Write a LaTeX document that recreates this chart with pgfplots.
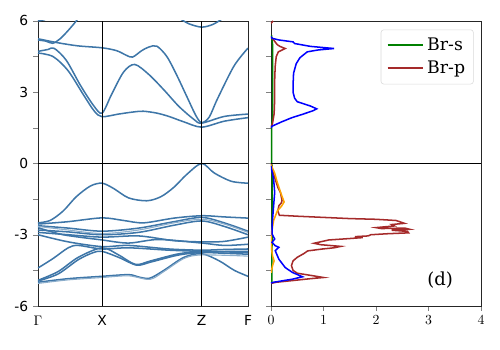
\documentclass[border=0pt]{standalone}
\usepackage{pgfplots}
\pgfplotsset{compat=1.18}
\usepackage{fontspec}
\setmainfont{DejaVu Serif}
\newfontfamily\dsans{DejaVu Sans}
\definecolor{bandc}{RGB}{62,118,168}
\definecolor{brp}{RGB}{165,42,42}
\definecolor{brs}{RGB}{0,128,0}
\definecolor{orng}{RGB}{255,165,0}
\tikzset{band/.style={color=bandc, solid, line width=1.1pt, smooth, mark=none}}
\begin{document}
\begin{tikzpicture}
\path[use as bounding box] (0,0) rectangle (361.35pt,252.95pt);
% ---------- band structure ----------
\begin{axis}[
  at={(27.46pt,31.8pt)}, anchor=south west, scale only axis,
  width=151.8pt, height=206.0pt,
  xmin=0, xmax=208.6, ymin=-6, ymax=6,
  xtick={0,63.6,162.6,208.6}, xticklabels={$\Gamma$,X,Z,F},
  xticklabel style={font=\dsans\fontsize{10}{12}\selectfont},
  x tick style={draw=none},
  ytick={-6,-4.5,-3,-1.5,0,1.5,3,4.5,6}, yticklabels={-6,,-3,,0,,3,,6},
  yticklabel style={font=\dsans\fontsize{10}{12}\selectfont},
  tick align=outside, major tick length=3.5pt,
  tick pos=left, axis line style={black!85},
  clip=true,
]
% conduction
\addplot[band] coordinates {(0,4.65)(15,4.5)(30,3.9)(45,2.9)(56,2.2)(63.6,1.97)(80,2.08)(95,2.17)(104.6,2.2)(118,2.12)(130,1.98)(145,1.75)(162.6,1.53)(185,1.78)(208.6,1.93)};
\addplot[band] coordinates {(0,4.72)(10,4.8)(16,4.85)(28,4.35)(42,3.3)(55,2.45)(63.6,2.12)(73,2.9)(85,3.85)(96,4.17)(110,3.75)(125,3.1)(140,2.4)(155,1.85)(162.6,1.7)(185,1.98)(208.6,2.08)};
\addplot[band] coordinates {(0,5.25)(20,5.08)(40,4.95)(63.6,4.87)(78,4.75)(88,4.55)(94,4.48)(103,4.75)(110,4.9)(118,4.94)(128,4.5)(138,3.7)(148,2.8)(157,2.0)(162.6,1.72)(170,1.95)(178,2.7)(194.6,4.1)(208.6,4.86)};
\addplot[band] coordinates {(0,5.2)(8,5.15)(14.6,5.06)(22,5.25)(30,5.6)(38,6.0)(42,6.25)};
\addplot[band] coordinates {(140,6.12)(150,5.88)(162.6,5.74)(174,5.86)(184,6.12)};
\addplot[band] coordinates {(0,6.0)(6,6.05)(12,6.15)};
% valence
\addplot[band] coordinates {(0,-2.5)(12,-2.4)(25,-2.0)(38,-1.4)(52,-0.95)(63.6,-0.83)(75,-1.05)(90,-1.45)(108,-1.57)(122,-1.4)(135,-1.0)(148,-0.45)(162.6,0)(175,-0.4)(192,-0.75)(208.6,-0.83)};
\addplot[band] coordinates {(0,-2.55)(30,-2.45)(63.6,-2.29)(85,-2.4)(105,-2.5)(135,-2.3)(162.6,-2.2)(185,-2.25)(208.6,-2.3)};
\addplot[band] coordinates {(0,-2.62)(30,-2.72)(63.6,-2.85)(100,-2.72)(135,-2.45)(162.6,-2.27)(185,-2.5)(208.6,-2.85)};
\addplot[band] coordinates {(0,-2.8)(30,-2.88)(63.6,-3.0)(100,-2.9)(135,-2.6)(162.6,-2.42)(185,-2.65)(208.6,-3.0)};
\addplot[band] coordinates {(0,-2.9)(30,-3.0)(63.6,-3.1)(100,-3.05)(135,-3.25)(162.6,-3.3)(185,-3.28)(208.6,-3.1)};
\addplot[band] coordinates {(0,-2.7)(25,-3.0)(63.6,-3.22)(90,-3.35)(120,-3.2)(162.6,-3.35)(185,-3.45)(208.6,-3.4)};
\addplot[band] coordinates {(0,-3.0)(30,-3.3)(63.6,-3.5)(90,-3.45)(130,-3.6)(162.6,-3.65)(185,-3.62)(208.6,-3.6)};
\addplot[band] coordinates {(0,-4.4)(15,-4.0)(30,-3.55)(40,-3.45)(63.6,-3.6)(90,-3.55)(130,-3.65)(162.6,-3.7)(185,-3.72)(208.6,-3.75)};
\addplot[band] coordinates {(0,-4.95)(20,-4.65)(40,-4.05)(55,-3.75)(63.6,-3.7)(80,-3.95)(98,-4.28)(112,-4.15)(140,-3.85)(162.6,-3.75)(185,-3.78)(208.6,-3.82)};
\addplot[band] coordinates {(0,-5.0)(30,-4.85)(63.6,-4.75)(90,-4.68)(100,-4.78)(111,-4.83)(125,-4.5)(145,-3.95)(162.6,-3.8)(180,-4.1)(195,-4.5)(208.6,-4.75)};
\addplot[band] coordinates {(0,-4.92)(20,-4.55)(40,-3.95)(63.6,-3.55)(80,-3.85)(97,-4.25)(112,-4.1)(140,-3.8)(162.6,-3.72)(208.6,-3.7)};
\addplot[band, color=bandc!60, line width=0.8pt] coordinates {(0,-2.65)(30,-2.8)(63.6,-2.95)(100,-2.8)(135,-2.5)(162.6,-2.35)(185,-2.55)(208.6,-2.9)};
\addplot[band, color=bandc!60, line width=0.8pt] coordinates {(0,-5.05)(30,-4.9)(63.6,-4.8)(90,-4.73)(111,-4.88)(125,-4.55)(145,-4.0)(162.6,-3.85)(208.6,-3.9)};
% guide lines
\addplot[black, line width=0.7pt, mark=none] coordinates {(63.6,-6)(63.6,6)};
\addplot[black, line width=0.7pt, mark=none] coordinates {(162.6,-6)(162.6,6)};
\addplot[black, line width=0.7pt, mark=none] coordinates {(0,0)(208.6,0)};
\end{axis}
% ---------- DOS ----------
\begin{axis}[
  at={(195.85pt,31.8pt)}, anchor=south west, scale only axis,
  width=151.8pt, height=206.0pt,
  xmin=0, xmax=4, ymin=-6, ymax=6,
  xtick={0,1,2,3,4},
  xticklabel style={font=\fontsize{10}{12}\selectfont},
  ytick={-6,-4.5,...,6}, yticklabels={},
  tick align=outside, major tick length=3.5pt,
  tick pos=left, axis line style={black!85},
  legend style={at={(0.965,0.97)}, anchor=north east, draw=black!15, rounded corners=2pt,
    font=\fontsize{12.5}{15}\selectfont, row sep=2pt, inner sep=4pt},
  legend cell align=left,
  legend image code/.code={\path[#1, line width=1.4pt] (0pt,0pt) edge (26pt,0pt);},
]
\addlegendimage{color=brs}
\addlegendentry{Br-s}
\addlegendimage{color=brp}
\addlegendentry{Br-p}
\addplot[brs, line width=1.1pt, mark=none, forget plot] coordinates {(0.015,-5.05)(0.02,-3)(0.02,-0.1)(0.01,0)(0.01,1.5)(0.03,2)(0.03,5)(0.01,5.4)};
\addplot[brp, line width=1.1pt, mark=none, forget plot] coordinates {(0,-0.02)(0.03,-0.3)(0.08,-0.66)(0.13,-1.0)(0.18,-1.22)(0.21,-1.55)(0.2,-1.65)(0.15,-1.78)(0.13,-2.0)(0.16,-2.18)(0.5,-2.22)(1.0,-2.27)(1.5,-2.32)(2.0,-2.35)(2.38,-2.4)(2.45,-2.45)(2.54,-2.52)(2.3,-2.57)(2.35,-2.63)(2.0,-2.7)(2.1,-2.74)(2.55,-2.72)(2.64,-2.77)(2.3,-2.81)(2.6,-2.86)(2.62,-2.92)(2.2,-2.96)(1.9,-3.0)(1.85,-3.05)(1.6,-3.08)(1.75,-3.12)(1.5,-3.16)(1.1,-3.22)(0.82,-3.36)(0.95,-3.42)(1.33,-3.49)(1.2,-3.55)(0.98,-3.6)(0.7,-3.68)(0.62,-3.8)(0.5,-3.95)(0.42,-4.1)(0.39,-4.3)(0.42,-4.5)(0.5,-4.62)(0.78,-4.72)(1.0,-4.8)(0.75,-4.85)(0.45,-4.92)(0.1,-5.0)(0,-5.05)};
\addplot[brp, line width=1.1pt, mark=none, forget plot] coordinates {(0,1.5)(0.03,1.7)(0.06,2.1)(0.07,2.7)(0.07,3.5)(0.08,4.1)(0.1,4.5)(0.14,4.7)(0.27,4.84)(0.17,4.93)(0.12,5.0)(0.05,5.2)(0,5.3)};
\addplot[brp, line width=1.1pt, mark=none, forget plot] coordinates {(0,5.9)(0.04,6.0)};
\addplot[orng, line width=1.1pt, mark=none, forget plot] coordinates {(0,-0.05)(0.07,-0.4)(0.12,-0.8)(0.18,-1.2)(0.25,-1.62)(0.2,-1.8)(0.12,-2.0)(0.05,-2.4)(0.02,-2.8)(0,-3.0)(0.01,-3.6)(0.03,-3.9)(0.06,-4.1)(0.03,-4.3)(0,-4.6)};
\addplot[blue, line width=1.1pt, mark=none, forget plot] coordinates {(0,-0.1)(0.01,-0.24)(0.05,-0.66)(0.07,-1.22)(0.05,-1.78)(0.02,-2.62)(0.02,-2.97)(0.07,-3.18)(0.02,-3.32)(0.08,-3.46)(0.15,-3.53)(0.08,-3.67)(0.15,-4.03)(0.27,-4.38)(0.41,-4.59)(0.6,-4.77)(0.41,-4.87)(0.05,-5.0)(0,-5.03)};
\addplot[blue, line width=1.1pt, mark=none, forget plot] coordinates {(0,1.5)(0.02,1.57)(0.2,1.75)(0.4,1.93)(0.6,2.07)(0.8,2.22)(0.87,2.3)(0.75,2.42)(0.5,2.6)(0.45,2.75)(0.42,3.0)(0.42,3.3)(0.43,3.8)(0.48,4.2)(0.55,4.45)(0.69,4.7)(0.9,4.78)(1.2,4.84)(0.75,4.93)(0.45,5.05)(0.42,5.12)(0.15,5.2)(0.02,5.27)(0,5.35)};
\addplot[black, line width=0.7pt, mark=none, forget plot] coordinates {(0,0)(4,0)};
\node at (axis cs:3.22,-4.9) {\fontsize{13}{15}\selectfont(d)};
\end{axis}
\end{tikzpicture}
\end{document}
